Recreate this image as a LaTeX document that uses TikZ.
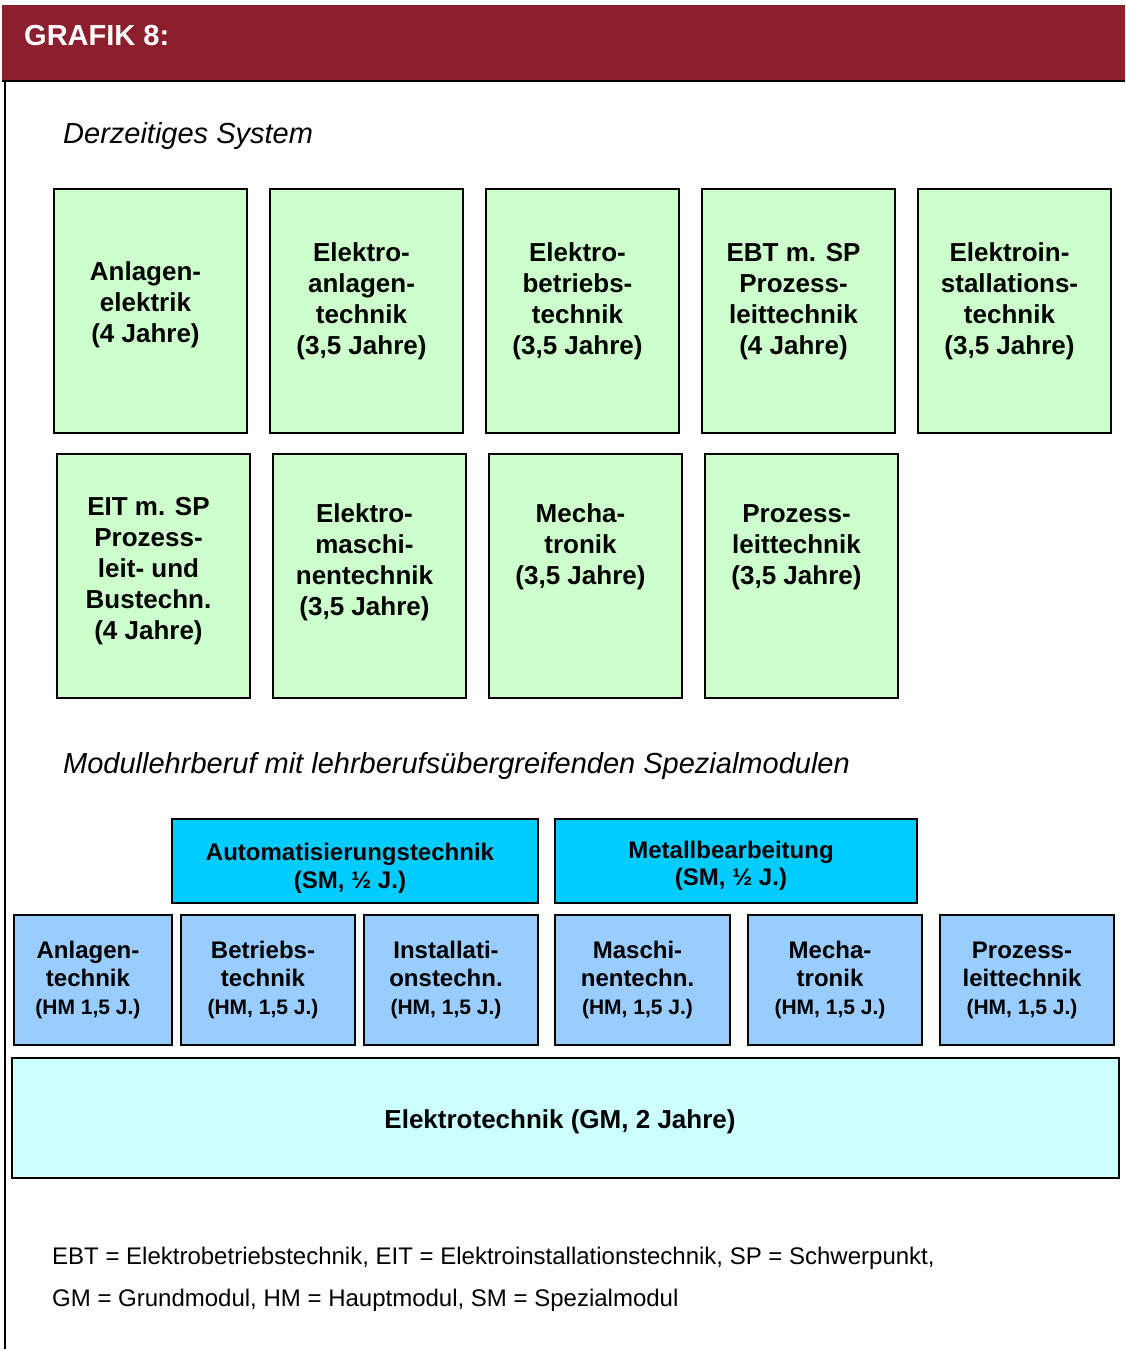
\documentclass[tikz,border=0pt]{standalone}
\usepackage{fontspec}
\setmainfont{Liberation Sans}
\definecolor{hdr}{RGB}{141,30,46}
\definecolor{grn}{RGB}{204,255,204}
\definecolor{smc}{RGB}{0,204,255}
\definecolor{hmc}{RGB}{153,204,255}
\definecolor{gmc}{RGB}{204,255,255}
\tikzset{
  boxbase/.style={draw=black, line width=1.8pt, inner sep=0pt, anchor=north west},
  gbox/.style={boxbase, fill=grn, minimum width=193pt, minimum height=244pt},
  gtxt/.style={font=\fontsize{26}{31}\selectfont\bfseries, align=center, inner sep=0pt},
  smbox/.style={boxbase, fill=smc, minimum height=84pt},
  smtxt/.style={font=\fontsize{24}{27.5}\selectfont\bfseries, align=center, inner sep=0pt},
  hmbox/.style={boxbase, fill=hmc, minimum height=130pt},
  hmtxt/.style={font=\fontsize{24}{28}\selectfont\bfseries, align=center, inner sep=0pt},
  gmbox/.style={boxbase, fill=gmc, minimum width=1107pt, minimum height=120pt},
  ttl/.style={font=\fontsize{29}{34}\selectfont\itshape, anchor=base west, inner sep=0pt},
  foot/.style={font=\fontsize{24}{28}\selectfont, anchor=base west, inner sep=0pt}
}
\newcommand{\hmsubline}[1]{{\fontsize{21}{27}\selectfont #1}}
\begin{document}
\begin{tikzpicture}[x=1pt,y=-1pt]
\useasboundingbox (0,0) rectangle (1125,1349);
\fill[white] (0,0) rectangle (1125,1349);
% header
\fill[hdr] (2,5) rectangle (1125,81);
\node[font=\fontsize{29}{34}\selectfont\bfseries, text=white, anchor=base west, inner sep=0pt] (hdrtxt) at (24,45) {GRAFIK 8:};
\draw[line width=2pt] (2,81) -- (1125,81);
\draw[line width=1.5pt] (5,81) -- (5,1349);
% section titles
\node[ttl] (t1) at (63,143) {Derzeitiges System};
\node[ttl] (t2) at (63,773) {Modullehrberuf mit lehrberufsübergreifenden Spezialmodulen};
% row 1
\node[gbox] (g1) at (53,188) {};
\node[gbox] (g2) at (269,188) {};
\node[gbox] (g3) at (485,188) {};
\node[gbox] (g4) at (701,188) {};
\node[gbox] (g5) at (917,188) {};
\node[gtxt] (g1t) at (145.5,305) {Anlagen-\\elektrik\\(4 Jahre)};
\node[gtxt] (g2t) at (361.5,301.5) {Elektro-\\anlagen-\\technik\\(3,5 Jahre)};
\node[gtxt] (g3t) at (577.5,301.5) {Elektro-\\betriebs-\\technik\\(3,5 Jahre)};
\node[gtxt] (g4t) at (793.5,301.5) {EBT m. SP\\Prozess-\\leittechnik\\(4 Jahre)};
\node[gtxt] (g5t) at (1009.5,301.5) {Elektroin-\\stallations-\\technik\\(3,5 Jahre)};
% row 2
\node[gbox] (h1) at (56,453) {};
\node[gbox] (h2) at (272,453) {};
\node[gbox] (h3) at (488,453) {};
\node[gbox] (h4) at (704,453) {};
\node[gtxt] (h1t) at (148.5,571.5) {EIT m. SP\\Prozess-\\leit- und\\Bustechn.\\(4 Jahre)};
\node[gtxt] (h2t) at (364.5,562) {Elektro-\\maschi-\\nentechnik\\(3,5 Jahre)};
\node[gtxt] (h3t) at (580.5,547) {Mecha-\\tronik\\(3,5 Jahre)};
\node[gtxt] (h4t) at (796.5,547) {Prozess-\\leittechnik\\(3,5 Jahre)};
% special modules
\node[smbox, minimum width=366pt] (sm1) at (171,818) {};
\node[smbox, minimum width=362pt] (sm2) at (554,818) {};
\node[smtxt] (sm1t) at (350,868.5) {Automatisierungstechnik\\(SM, ½ J.)};
\node[smtxt] (sm2t) at (731,866) {Metallbearbeitung\\(SM, ½ J.)};
% main modules
\node[hmbox, minimum width=158pt] (m1) at (13,914) {};
\node[hmbox, minimum width=174pt] (m2) at (180,914) {};
\node[hmbox, minimum width=174pt] (m3) at (363,914) {};
\node[hmbox, minimum width=175pt] (m4) at (554,914) {};
\node[hmbox, minimum width=174pt] (m5) at (747,914) {};
\node[hmbox, minimum width=174pt] (m6) at (939,914) {};
\node[hmtxt] (m1t) at (88,980) {Anlagen-\\technik\\\hmsubline{(HM 1,5 J.)}};
\node[hmtxt] (m2t) at (263,980) {Betriebs-\\technik\\\hmsubline{(HM, 1,5 J.)}};
\node[hmtxt] (m3t) at (446,980) {Installati-\\onstechn.\\\hmsubline{(HM, 1,5 J.)}};
\node[hmtxt] (m4t) at (637.5,980) {Maschi-\\nentechn.\\\hmsubline{(HM, 1,5 J.)}};
\node[hmtxt] (m5t) at (830,980) {Mecha-\\tronik\\\hmsubline{(HM, 1,5 J.)}};
\node[hmtxt] (m6t) at (1022,980) {Prozess-\\leittechnik\\\hmsubline{(HM, 1,5 J.)}};
% basic module
\node[gmbox] (gm) at (11,1057) {};
\node[font=\fontsize{26}{31}\selectfont\bfseries, inner sep=0pt] (gmt) at (560,1122) {Elektrotechnik (GM, 2 Jahre)};
% footnote
\node[foot] (f1) at (52,1264) {EBT = Elektrobetriebstechnik, EIT = Elektroinstallationstechnik, SP = Schwerpunkt,};
\node[foot] (f2) at (52,1306) {GM = Grundmodul, HM = Hauptmodul, SM = Spezialmodul};
\end{tikzpicture}
\end{document}
